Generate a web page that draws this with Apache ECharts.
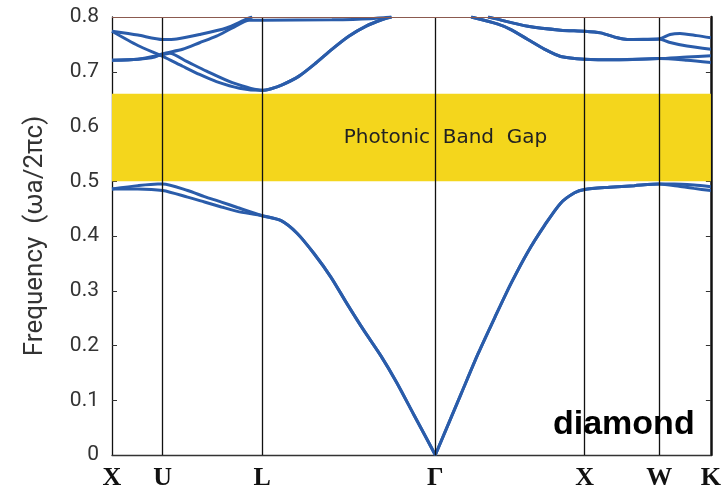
<!DOCTYPE html>
<html><head><meta charset="utf-8">
<script src="https://cdn.jsdelivr.net/npm/echarts@6/dist/echarts.min.js"></script>
<style>html,body{margin:0;padding:0;background:#fff}#c{width:724px;height:493px}</style>
</head><body><div id="c"></div>
<script>
// k-path positions of the high-symmetry points and their labels
const kTicks = [0, 51, 151, 325, 475, 550, 602];
const kLabels = ['X', 'U', 'L', 'Γ', 'X', 'W', 'K'];
// photonic band gap (frequency range)
const gapRange = [0.50, 0.66];

// lower (two) bands
const band1XUL = [[0,0.486],[26,0.492],[46,0.495],[51,0.495],[76,0.483],[93,0.472],[110,0.462],[126,0.452],[151,0.437]];
const band2XUL = [[0,0.486],[26,0.486],[51,0.483],[76,0.471],[93,0.462],[110,0.453],[126,0.445],[151,0.437]];
const lowerLG = [[151,0.437],[170,0.428],[186,0.405],[203,0.368],[220,0.325],[236,0.277],[253,0.228],[270,0.182],[286,0.133],[303,0.075],[325,0]];
const lowerGXW = [[325,0],[351,0.112],[368,0.185],[385,0.252],[401,0.313],[418,0.371],[435,0.420],[451,0.460],[465,0.479],[475,0.485],[500,0.489],[525,0.492],[550,0.495]];
const band1WK = [[550,0.495],[565,0.495],[585,0.493],[602,0.490]];
const band2WK = [[550,0.495],[570,0.491],[585,0.487],[602,0.483]];

// upper bands
const band3XU = [[0,0.774],[26,0.767],[51,0.759],[65,0.760],[88,0.768],[115,0.780],[135,0.796],[141,0.8]];
const band4XUL = [[0,0.774],[26,0.748],[51,0.728],[71,0.710],[88,0.695],[105,0.682],[128,0.670],[151,0.666]];
const band5XUL = [[0,0.721],[26,0.723],[43,0.727],[51,0.733],[71,0.741],[88,0.753],[105,0.765],[121,0.780],[138,0.794],[151,0.794],[221,0.795],[260,0.797],[280,0.8]];
const band6XUL = [[0,0.721],[26,0.723],[51,0.731],[58,0.734],[75,0.719],[95,0.701],[121,0.680],[151,0.666]];
const upperLG = [[151,0.666],[160,0.669],[171,0.676],[188,0.692],[205,0.716],[221,0.741],[238,0.765],[255,0.783],[271,0.795],[281,0.8]];
const upper1GXW = [[378,0.8],[385,0.797],[418,0.783],[451,0.776],[475,0.774],[491,0.771],[508,0.762],[518,0.759],[550,0.760]];
const upper1WK_a = [[550,0.760],[561,0.768],[571,0.770],[588,0.766],[602,0.762]];
const upper1WK_b = [[550,0.760],[560,0.754],[578,0.747],[602,0.741]];
const upper2GXW = [[361,0.8],[388,0.787],[401,0.777],[418,0.759],[435,0.741],[451,0.728],[475,0.723],[510,0.722],[550,0.724]];
const upper2WK_c = [[550,0.724],[578,0.727],[602,0.729]];
const upper2WK_d = [[550,0.724],[578,0.721],[602,0.717]];

function join(...parts) {
  const out = [];
  parts.forEach((p, i) => { (i === 0 ? p : p.slice(1)).forEach(pt => out.push(pt)); });
  return out;
}
// each piece is drawn as its own smooth line so that cusps (e.g. at Γ) stay sharp
const pieces = [
  join(band1XUL, lowerLG),
  join(band2XUL, lowerLG),
  join(lowerGXW, band1WK),
  join(lowerGXW, band2WK),
  band3XU,
  join(band4XUL, upperLG),
  band5XUL,
  join(band6XUL, upperLG),
  join(upper1GXW, upper1WK_a),
  join(upper1GXW, upper1WK_b),
  join(upper2GXW, upper2WK_c),
  join(upper2GXW, upper2WK_d)
];

const lineColor = '#2a5caa';
const chart = echarts.init(document.getElementById('c'), null, {renderer: 'canvas'});

const series = [{
  type: 'line',
  data: [],
  z: 1,
  silent: true,
  markArea: {
    silent: true,
    itemStyle: {color: '#f4d61c'},
    label: {
      show: true, position: 'inside', offset: [34, 0],
      formatter: 'Photonic  Band  Gap',
      color: '#222', fontSize: 20, fontFamily: 'DejaVu Sans'
    },
    data: [[{yAxis: gapRange[0]}, {yAxis: gapRange[1]}]]
  }
}, {
  type: 'line',
  data: [],
  z: 2,
  silent: true,
  markLine: {
    silent: true,
    symbol: 'none',
    label: {show: false},
    lineStyle: {color: '#111', width: 1.3, type: 'solid'},
    data: kTicks.slice(1, 6).map(v => ({xAxis: v})).concat([
      {yAxis: 0.8, lineStyle: {color: '#8b5a4f', width: 1.2, type: 'solid'}}
    ])
  }
}];
pieces.forEach(b => series.push({
  type: 'line',
  data: b,
  z: 3,
  showSymbol: false,
  smooth: 0.25,
  clip: true,
  silent: true,
  lineStyle: {color: lineColor, width: 3}
}));

chart.setOption({
  animation: false,
  backgroundColor: '#fff',
  grid: {left: 112, right: 10, top: 17, bottom: 38},
  xAxis: {
    type: 'value', min: 0, max: 602,
    axisLine: {show: true, lineStyle: {color: '#333', width: 1.3}},
    axisTick: {show: false},
    splitLine: {show: false},
    axisLabel: {
      customValues: kTicks,
      formatter: v => kLabels[kTicks.indexOf(v)],
      color: '#111', fontSize: 26, fontWeight: 'bold',
      fontFamily: 'Liberation Serif', margin: 10
    }
  },
  yAxis: [{
    type: 'value', min: 0, max: 0.8, interval: 0.1,
    name: 'Frequency  (ωa/2πc)',
    nameLocation: 'middle', nameGap: 64,
    nameTextStyle: {color: '#333', fontSize: 26, fontFamily: 'Roboto'},
    axisLine: {show: true, lineStyle: {color: '#111', width: 1.3}},
    axisTick: {show: true, inside: true, length: 5, lineStyle: {color: '#333'}},
    splitLine: {show: false},
    axisLabel: {color: '#333', fontSize: 21, fontFamily: 'Roboto', margin: 13}
  }, {
    type: 'value', min: 0, max: 0.8, interval: 0.1, position: 'right',
    axisLine: {show: true, lineStyle: {color: '#111', width: 2.5}},
    axisTick: {show: true, inside: true, length: 5, lineStyle: {color: '#333'}},
    splitLine: {show: false},
    axisLabel: {show: false}
  }],
  series: series,
  graphic: [{
    type: 'text', z: 100,
    style: {
      x: 553, y: 425, text: 'diamond', fill: '#000',
      font: 'bold 34px "Liberation Sans"', verticalAlign: 'middle'
    }
  }]
});
</script></body></html>
